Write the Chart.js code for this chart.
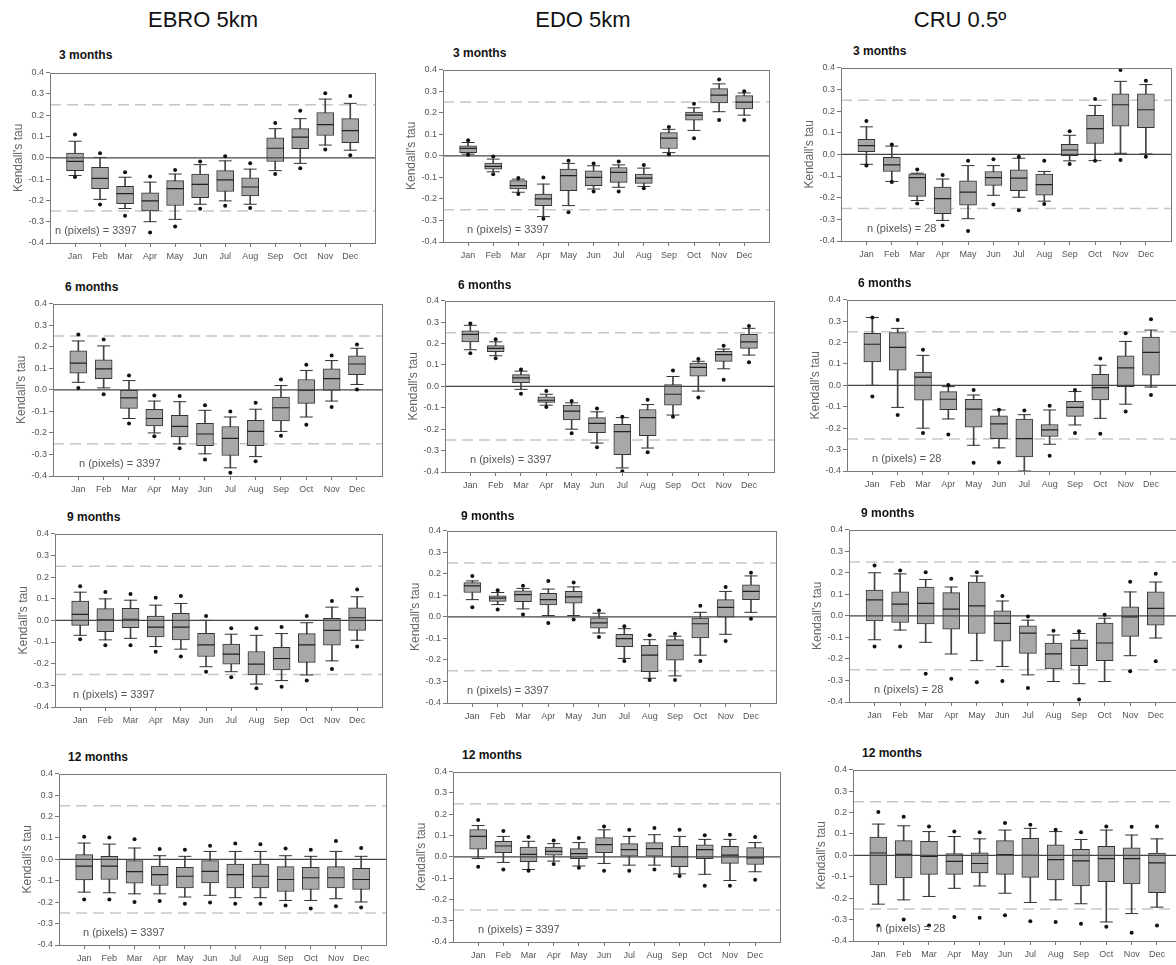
<!DOCTYPE html>
<html>
<head>
<meta charset="utf-8">
<script src="https://cdn.jsdelivr.net/npm/chart.js@4"></script>
<style>
html, body { margin: 0; padding: 0; background: #fff; width: 1176px; height: 965px; overflow: hidden; }
body { position: relative; font-family: "Liberation Sans", Arial, sans-serif; }
.head { position: absolute; width: 240px; text-align: center; font-size: 22px; line-height: 26px; color: #111; }
.ptitle { position: absolute; font-size: 12px; font-weight: bold; line-height: 14px; color: #111; white-space: nowrap; }
canvas { position: absolute; }
</style>
</head>
<body>
<div class="head" style="left:83px;top:7px">EBRO 5km</div>
<div class="head" style="left:463px;top:7px">EDO 5km</div>
<div class="head" style="left:840px;top:7px">CRU 0.5º</div>
<script>
const months = ['Jan', 'Feb', 'Mar', 'Apr', 'May', 'Jun', 'Jul', 'Aug', 'Sep', 'Oct', 'Nov', 'Dec'];
const threshold = 0.25;   // dashed lines at +/- this value
const noteY = -0.345;     // where the "n (pixels)" text sits

// each row: [low outlier, lower whisker, Q1, median, Q3, upper whisker, high outlier]
const ebro3 = [
  [-0.09, -0.083, -0.06, -0.017, 0.022, 0.078, 0.11],
  [-0.219, -0.195, -0.145, -0.096, -0.045, 0.002, 0.022],
  [-0.272, -0.238, -0.215, -0.168, -0.134, -0.091, -0.068],
  [-0.351, -0.3, -0.249, -0.202, -0.164, -0.114, -0.088],
  [-0.323, -0.289, -0.224, -0.145, -0.107, -0.076, -0.057],
  [-0.239, -0.218, -0.187, -0.125, -0.076, -0.032, -0.017],
  [-0.225, -0.202, -0.158, -0.103, -0.06, -0.014, 0.008],
  [-0.235, -0.218, -0.179, -0.137, -0.094, -0.053, -0.025],
  [-0.076, -0.06, -0.017, 0.045, 0.094, 0.137, 0.164],
  [-0.049, -0.026, 0.043, 0.097, 0.137, 0.184, 0.221],
  [0.039, 0.06, 0.105, 0.156, 0.213, 0.276, 0.303],
  [0.012, 0.036, 0.071, 0.128, 0.184, 0.256, 0.29]
];
const edo3 = [
  [0.005, 0.008, 0.015, 0.035, 0.046, 0.062, 0.072],
  [-0.085, -0.074, -0.062, -0.049, -0.034, -0.015, -0.003],
  [-0.177, -0.169, -0.154, -0.138, -0.115, -0.108, -0.103],
  [-0.292, -0.282, -0.231, -0.2, -0.177, -0.131, -0.1],
  [-0.262, -0.231, -0.162, -0.092, -0.062, -0.035, -0.023],
  [-0.166, -0.154, -0.138, -0.1, -0.069, -0.046, -0.035],
  [-0.166, -0.146, -0.123, -0.077, -0.054, -0.042, -0.026],
  [-0.151, -0.142, -0.128, -0.103, -0.085, -0.057, -0.043],
  [0.008, 0.015, 0.034, 0.082, 0.108, 0.123, 0.134],
  [0.082, 0.118, 0.166, 0.189, 0.203, 0.223, 0.242],
  [0.166, 0.205, 0.246, 0.282, 0.312, 0.334, 0.354],
  [0.166, 0.189, 0.218, 0.249, 0.28, 0.292, 0.3]
];
const cru3 = [
  [-0.052, -0.046, 0.012, 0.04, 0.069, 0.127, 0.154],
  [-0.128, -0.125, -0.079, -0.049, -0.014, 0.038, 0.046],
  [-0.227, -0.213, -0.194, -0.107, -0.09, -0.087, -0.07],
  [-0.328, -0.305, -0.274, -0.204, -0.151, -0.114, -0.095],
  [-0.354, -0.297, -0.235, -0.174, -0.122, -0.052, -0.029],
  [-0.232, -0.189, -0.143, -0.107, -0.079, -0.052, -0.023],
  [-0.258, -0.198, -0.168, -0.11, -0.072, -0.018, -0.011],
  [-0.229, -0.216, -0.189, -0.14, -0.091, -0.079, -0.029],
  [-0.044, -0.03, -0.006, 0.02, 0.046, 0.088, 0.107],
  [-0.03, -0.029, 0.05, 0.119, 0.18, 0.226, 0.256],
  [-0.026, 0.005, 0.13, 0.229, 0.279, 0.337, 0.389],
  [-0.011, 0.002, 0.123, 0.206, 0.279, 0.322, 0.34]
];
const ebro6 = [
  [0.009, 0.035, 0.078, 0.124, 0.181, 0.227, 0.257],
  [-0.021, 0.009, 0.052, 0.097, 0.139, 0.204, 0.234],
  [-0.156, -0.133, -0.086, -0.037, -0.002, 0.043, 0.067],
  [-0.216, -0.2, -0.167, -0.133, -0.09, -0.052, -0.026],
  [-0.271, -0.251, -0.218, -0.17, -0.118, -0.055, -0.029],
  [-0.323, -0.297, -0.259, -0.205, -0.156, -0.095, -0.072],
  [-0.385, -0.362, -0.305, -0.225, -0.17, -0.126, -0.101],
  [-0.331, -0.31, -0.259, -0.193, -0.141, -0.09, -0.06],
  [-0.213, -0.193, -0.144, -0.083, -0.034, 0.02, 0.048],
  [-0.162, -0.126, -0.063, -0.002, 0.048, 0.09, 0.116],
  [-0.08, -0.052, -0.003, 0.052, 0.098, 0.136, 0.159],
  [0.002, 0.025, 0.071, 0.12, 0.158, 0.193, 0.211]
];
const edo6 = [
  [0.154, 0.171, 0.208, 0.243, 0.259, 0.285, 0.293],
  [0.131, 0.143, 0.162, 0.177, 0.19, 0.208, 0.22],
  [-0.034, -0.014, 0.017, 0.04, 0.055, 0.071, 0.079],
  [-0.096, -0.088, -0.075, -0.065, -0.049, -0.037, -0.022],
  [-0.219, -0.2, -0.157, -0.116, -0.088, -0.077, -0.068],
  [-0.284, -0.265, -0.216, -0.173, -0.146, -0.119, -0.103],
  [-0.396, -0.381, -0.319, -0.211, -0.177, -0.146, -0.142],
  [-0.308, -0.288, -0.23, -0.146, -0.108, -0.085, -0.062],
  [-0.142, -0.134, -0.088, -0.037, 0.008, 0.046, 0.074],
  [-0.052, -0.022, 0.048, 0.089, 0.109, 0.117, 0.128],
  [0.031, 0.082, 0.117, 0.148, 0.163, 0.174, 0.19],
  [0.112, 0.146, 0.177, 0.208, 0.243, 0.271, 0.282]
];
const cru6 = [
  [-0.052, 0.0, 0.109, 0.192, 0.243, 0.317, 0.317],
  [-0.138, -0.103, 0.071, 0.177, 0.246, 0.266, 0.305],
  [-0.223, -0.2, -0.069, 0.038, 0.062, 0.14, 0.166],
  [-0.229, -0.157, -0.114, -0.065, -0.029, -0.006, 0.002],
  [-0.362, -0.28, -0.195, -0.111, -0.065, -0.045, -0.022],
  [-0.36, -0.292, -0.249, -0.18, -0.142, -0.115, -0.114],
  [null, -0.4, -0.334, -0.249, -0.157, -0.137, -0.118],
  [-0.329, -0.275, -0.238, -0.208, -0.183, -0.115, -0.095],
  [-0.222, -0.185, -0.145, -0.103, -0.075, -0.029, -0.022],
  [-0.226, -0.154, -0.068, -0.011, 0.051, 0.094, 0.125],
  [-0.122, -0.088, -0.006, 0.082, 0.138, 0.205, 0.243],
  [-0.045, -0.008, 0.048, 0.154, 0.225, 0.258, 0.309]
];
const ebro9 = [
  [-0.087, -0.069, -0.023, 0.028, 0.089, 0.13, 0.157],
  [-0.115, -0.09, -0.052, 0.002, 0.054, 0.099, 0.131],
  [-0.115, -0.083, -0.034, 0.005, 0.055, 0.093, 0.122],
  [-0.145, -0.121, -0.076, -0.031, 0.02, 0.07, 0.104],
  [-0.167, -0.133, -0.09, -0.031, 0.032, 0.078, 0.112],
  [-0.237, -0.214, -0.167, -0.113, -0.06, 0.0, 0.02],
  [-0.263, -0.237, -0.202, -0.156, -0.11, -0.064, -0.037],
  [-0.313, -0.294, -0.252, -0.202, -0.144, -0.069, -0.037],
  [-0.306, -0.278, -0.229, -0.176, -0.125, -0.061, -0.031],
  [-0.278, -0.252, -0.194, -0.113, -0.061, -0.011, 0.02],
  [-0.225, -0.187, -0.115, -0.046, 0.009, 0.061, 0.089],
  [-0.121, -0.092, -0.046, 0.012, 0.058, 0.109, 0.142]
];
const edo9 = [
  [0.044, 0.08, 0.113, 0.144, 0.159, 0.167, 0.19],
  [0.034, 0.057, 0.072, 0.087, 0.098, 0.113, 0.124],
  [0.011, 0.037, 0.07, 0.103, 0.121, 0.132, 0.144],
  [-0.029, 0.006, 0.055, 0.08, 0.109, 0.129, 0.167],
  [-0.012, 0.006, 0.064, 0.093, 0.118, 0.139, 0.159],
  [-0.093, -0.075, -0.052, -0.028, -0.005, 0.017, 0.029],
  [-0.205, -0.193, -0.139, -0.101, -0.081, -0.055, -0.044],
  [-0.293, -0.285, -0.254, -0.178, -0.132, -0.106, -0.086],
  [-0.293, -0.274, -0.201, -0.132, -0.106, -0.09, -0.078],
  [-0.205, -0.178, -0.098, -0.032, -0.006, 0.021, 0.052],
  [-0.112, -0.081, -0.002, 0.044, 0.08, 0.118, 0.139],
  [-0.009, 0.021, 0.08, 0.118, 0.149, 0.19, 0.205]
];
const cru9 = [
  [-0.142, -0.111, -0.023, 0.074, 0.12, 0.2, 0.234],
  [-0.142, -0.066, -0.031, 0.054, 0.112, 0.195, 0.211],
  [-0.269, -0.123, -0.038, 0.058, 0.134, 0.169, 0.203],
  [-0.292, -0.177, -0.062, 0.031, 0.108, 0.134, 0.172],
  [-0.308, -0.208, -0.082, 0.046, 0.157, 0.185, 0.203],
  [-0.303, -0.235, -0.118, -0.035, 0.023, 0.069, 0.092],
  [-0.335, -0.274, -0.174, -0.08, -0.046, -0.02, -0.003],
  [null, -0.305, -0.246, -0.177, -0.126, -0.089, -0.069],
  [-0.388, -0.315, -0.231, -0.151, -0.111, -0.082, -0.072],
  [null, -0.305, -0.208, -0.126, -0.034, -0.011, 0.005],
  [-0.257, -0.185, -0.095, -0.005, 0.042, 0.111, 0.158],
  [-0.211, -0.103, -0.043, 0.035, 0.112, 0.157, 0.195]
];
const ebro12 = [
  [-0.188, -0.153, -0.096, -0.032, 0.022, 0.076, 0.105],
  [-0.187, -0.156, -0.094, -0.032, 0.014, 0.071, 0.102],
  [-0.199, -0.161, -0.111, -0.057, -0.006, 0.053, 0.094],
  [-0.195, -0.161, -0.122, -0.071, -0.032, 0.017, 0.048],
  [-0.207, -0.176, -0.133, -0.079, -0.037, 0.014, 0.045],
  [-0.202, -0.168, -0.11, -0.056, -0.006, 0.037, 0.063],
  [-0.207, -0.179, -0.133, -0.071, -0.022, 0.037, 0.074],
  [-0.207, -0.179, -0.133, -0.079, -0.022, 0.037, 0.071],
  [-0.215, -0.192, -0.15, -0.094, -0.034, 0.017, 0.051],
  [-0.23, -0.192, -0.141, -0.086, -0.037, 0.014, 0.045],
  [-0.219, -0.184, -0.133, -0.086, -0.034, 0.037, 0.086],
  [-0.225, -0.199, -0.141, -0.094, -0.042, 0.014, 0.053]
];
const edo12 = [
  [-0.046, -0.008, 0.036, 0.096, 0.128, 0.147, 0.173],
  [-0.059, -0.026, 0.02, 0.051, 0.073, 0.096, 0.121],
  [-0.065, -0.059, -0.023, 0.012, 0.046, 0.073, 0.093],
  [-0.034, -0.02, 0.008, 0.026, 0.046, 0.062, 0.077],
  [-0.051, -0.043, -0.008, 0.015, 0.039, 0.067, 0.088],
  [-0.065, -0.031, 0.02, 0.057, 0.09, 0.127, 0.142],
  [-0.065, -0.039, 0.003, 0.034, 0.062, 0.096, 0.127],
  [-0.059, -0.039, 0.003, 0.039, 0.067, 0.104, 0.135],
  [-0.09, -0.08, -0.046, 0.0, 0.05, 0.096, 0.127],
  [-0.136, -0.082, -0.008, 0.034, 0.057, 0.082, 0.101],
  [-0.136, -0.111, -0.031, 0.008, 0.05, 0.082, 0.104],
  [-0.108, -0.07, -0.036, -0.005, 0.043, 0.067, 0.093]
];
const cru12 = [
  [-0.328, -0.228, -0.138, 0.011, 0.085, 0.146, 0.203],
  [-0.3, -0.208, -0.105, 0.005, 0.069, 0.138, 0.18],
  [-0.328, -0.192, -0.089, -0.005, 0.065, 0.111, 0.135],
  [-0.288, -0.154, -0.089, -0.028, 0.008, 0.088, 0.111],
  [-0.292, -0.143, -0.082, -0.038, 0.012, 0.077, 0.108],
  [-0.28, -0.177, -0.089, 0.003, 0.069, 0.118, 0.151],
  [-0.308, -0.22, -0.103, 0.0, 0.08, 0.126, 0.143],
  [-0.311, -0.208, -0.115, -0.02, 0.049, 0.111, 0.12],
  [-0.32, -0.226, -0.143, -0.026, 0.028, 0.074, 0.108],
  [-0.334, -0.311, -0.123, -0.015, 0.042, 0.118, 0.135],
  [-0.362, -0.272, -0.134, -0.015, 0.035, 0.095, 0.134],
  [-0.328, -0.242, -0.174, -0.035, 0.011, 0.077, 0.135]
];

// plot area [left, top, right, bottom] of every panel, title position, note offset
const panels = [
  { rows: ebro3,  title: '3 months',  n: 3397, area: [50, 71, 382, 243],   tpos: [59, 55],   dx: 5 },
  { rows: edo3,   title: '3 months',  n: 3397, area: [443, 68, 776, 242],  tpos: [453, 53],  dx: 24 },
  { rows: cru3,   title: '3 months',  n: 28,   area: [841, 66, 1178, 241], tpos: [853, 51],  dx: 26 },
  { rows: ebro6,  title: '6 months',  n: 3397, area: [53, 302, 389, 476],  tpos: [65, 287],  dx: 26 },
  { rows: edo6,   title: '6 months',  n: 3397, area: [445, 299, 781, 472], tpos: [458, 285], dx: 25 },
  { rows: cru6,   title: '6 months',  n: 28,   area: [847, 298, 1183, 471], tpos: [858, 283], dx: 25 },
  { rows: ebro9,  title: '9 months',  n: 3397, area: [55, 532, 389, 707],  tpos: [67, 517],  dx: 18 },
  { rows: edo9,   title: '9 months',  n: 3397, area: [447, 529, 783, 703], tpos: [461, 516], dx: 20 },
  { rows: cru9,   title: '9 months',  n: 28,   area: [849, 528, 1188, 702], tpos: [861, 513], dx: 25 },
  { rows: ebro12, title: '12 months', n: 3397, area: [59, 772, 393, 945],  tpos: [68, 757],  dx: 24 },
  { rows: edo12,  title: '12 months', n: 3397, area: [453, 770, 787, 942], tpos: [462, 755], dx: 25 },
  { rows: cru12,  title: '12 months', n: 28,   area: [853, 768, 1189, 941], tpos: [862, 753], dx: 23 }
];

Chart.defaults.font.family = '"Liberation Sans", Arial, sans-serif';

const Y_W = 48, X_H = 22, PAD_T = 8, PAD_R = 3;

// frame around the plot and the "n (pixels)" note
const framePlugin = {
  id: 'frame',
  afterDatasetsDraw(chart, args, opts) {
    const { ctx, chartArea: a, scales: { y } } = chart;
    ctx.save();
    ctx.strokeStyle = '#7a7a7a';
    ctx.lineWidth = 1;
    const l = Math.round(a.left) + 0.5, t = Math.round(a.top) + 0.5;
    ctx.strokeRect(l, t, Math.round(a.right) - Math.round(a.left), Math.round(a.bottom) - Math.round(a.top));
    ctx.fillStyle = '#555';
    ctx.font = '11px "Liberation Sans", Arial, sans-serif';
    ctx.textBaseline = 'middle';
    ctx.fillText(opts.note, a.left + opts.dx, y.getPixelForValue(noteY));
    ctx.restore();
  }
};

function drawPanel(p) {
  const [l, t, r, b] = p.area;
  const cv = document.createElement('canvas');
  cv.width = r - l + Y_W + PAD_R;
  cv.height = b - t + PAD_T + X_H;
  cv.style.left = (l - Y_W) + 'px';
  cv.style.top = (t - PAD_T) + 'px';
  document.body.appendChild(cv);

  const tt = document.createElement('div');
  tt.className = 'ptitle';
  tt.style.left = p.tpos[0] + 'px';
  tt.style.top = (p.tpos[1] - 7) + 'px';
  tt.textContent = p.title;
  document.body.appendChild(tt);

  // blank categories at both ends give the 0..13 axis with months at 1..12
  const labels = ['', ...months, ''];
  const pick = k => [null, ...p.rows.map(row => row[k]), null];
  const span = (a, c) => [null, ...p.rows.map(row => [row[a], row[c]]), null];
  const flat = v => labels.map(() => v);

  const ref = (v, color, dash, width, order) => ({
    type: 'line', data: flat(v), borderColor: color, borderWidth: width,
    borderDash: dash, pointRadius: 0, order: order
  });
  const marks = (k, style, radius, color, width, order) => ({
    type: 'line', data: pick(k), showLine: false, pointStyle: style,
    pointRadius: radius, pointHoverRadius: radius, pointBorderColor: color,
    pointBackgroundColor: color, pointBorderWidth: width, order: order
  });

  new Chart(cv, {
    type: 'bar',
    data: {
      labels: labels,
      datasets: [
        ref(threshold, '#c6c6c6', [11, 6], 1.5, 9),
        ref(-threshold, '#c6c6c6', [11, 6], 1.5, 9),
        { type: 'bar', data: span(1, 5), grouped: false, barThickness: 1,
          backgroundColor: '#444', order: 8 },
        { type: 'bar', data: span(2, 4), grouped: false, barThickness: 17,
          backgroundColor: '#a8a8a8', borderColor: '#333', borderWidth: 1,
          borderSkipped: false, order: 7 },
        marks(1, 'line', 6.5, '#333', 1, 6),
        marks(5, 'line', 6.5, '#333', 1, 6),
        marks(3, 'line', 8.5, '#222', 1.2, 5),
        ref(0, '#444', [], 1.2, 4),
        marks(0, 'circle', 2, '#111', 0, 3),
        marks(6, 'circle', 2, '#111', 0, 3)
      ]
    },
    options: {
      responsive: false,
      animation: false,
      events: [],
      layout: { padding: { top: PAD_T, right: PAD_R, left: 0, bottom: 0 } },
      plugins: {
        legend: { display: false },
        tooltip: { enabled: false },
        frame: { note: 'n (pixels) = ' + p.n, dx: p.dx }
      },
      scales: {
        x: {
          offset: false,
          afterFit: s => { s.height = X_H; },
          grid: {
            offset: false, drawOnChartArea: false, tickLength: 4, color: '#777',
            tickColor: c => (c.index === 0 || c.index === labels.length - 1) ? 'rgba(0,0,0,0)' : '#777'
          },
          border: { display: false },
          ticks: { autoSkip: false, maxRotation: 0, color: '#555', font: { size: 9 }, padding: 4 }
        },
        y: {
          min: -0.4, max: 0.4,
          afterFit: s => { s.width = Y_W; },
          grid: { drawOnChartArea: false, tickLength: 4, color: '#777' },
          border: { display: false },
          ticks: {
            stepSize: 0.1, color: '#555', font: { size: 9 }, padding: 2,
            callback: v => Math.abs(v) < 1e-9 ? '0.0' : v.toFixed(1)
          },
          title: { display: true, text: "Kendall's tau", color: '#666', font: { size: 12 }, padding: { top: 9, bottom: 0 } }
        }
      }
    },
    plugins: [framePlugin]
  });
}

panels.forEach(drawPanel);
</script>
</body>
</html>
